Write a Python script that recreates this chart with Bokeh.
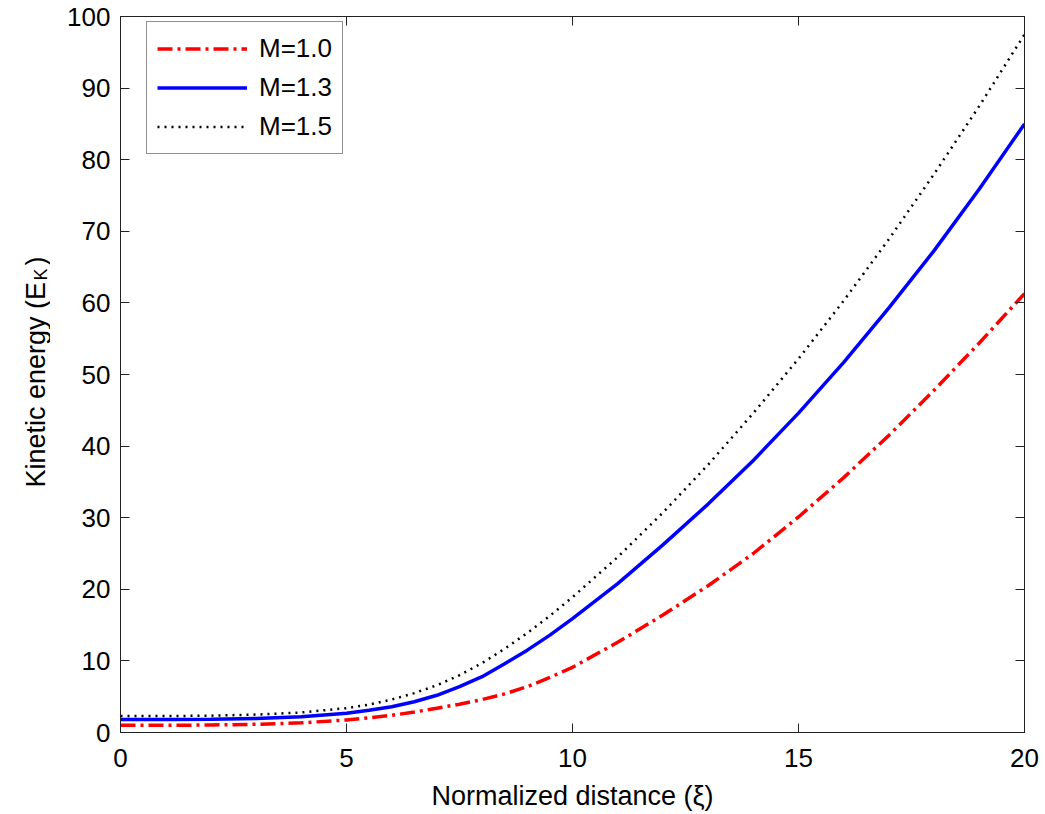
from bokeh.plotting import figure
from bokeh.layouts import row
from bokeh.models import Range1d, LinearAxis, Legend, LegendItem
from bokeh.core.properties import value
from bokeh.embed import file_html
from bokeh.resources import INLINE
import math

# Normalized distance (xi)
xi = [0, 1, 2, 3, 4, 5, 5.5, 6, 6.5, 7, 7.5, 8, 8.5, 9, 9.5, 10,
      11, 12, 13, 14, 15, 16, 17, 18, 19, 20]

# Kinetic energy
ek_m10 = [1.0, 1.0, 1.05, 1.15, 1.35, 1.75, 2.05, 2.4, 2.85, 3.4, 3.95, 4.6, 5.4, 6.4, 7.7, 9.1,
          12.6, 16.4, 20.5, 25.0, 30.1, 35.6, 41.5, 47.8, 54.4, 61.3]
ek_m13 = [1.8, 1.8, 1.85, 1.95, 2.2, 2.7, 3.1, 3.6, 4.3, 5.2, 6.4, 7.8, 9.6, 11.5, 13.6, 15.9,
          20.8, 26.2, 31.9, 38.0, 44.6, 51.7, 59.3, 67.3, 75.9, 85.0]
ek_m15 = [2.3, 2.3, 2.35, 2.5, 2.8, 3.4, 3.9, 4.6, 5.5, 6.6, 8.0, 9.7, 11.7, 13.9, 16.3, 18.9,
          24.5, 30.7, 37.4, 44.6, 52.2, 60.3, 68.9, 78.0, 87.5, 97.5]

series_labels = ["M=1.0", "M=1.3", "M=1.5"]
x_ticks = [0, 5, 10, 15, 20]
y_ticks = [0, 10, 20, 30, 40, 50, 60, 70, 80, 90, 100]
y_label_parts = ["Kinetic energy (E", "K", ")"]

FONT = "Liberation Sans"
W, H = 1045, 814
LW = 50                      # width of the strip that holds the y-axis label
FRAME_TOP, FRAME_BOTTOM = 16, 732   # frame edges (page px); the strip's frame is aligned to them

# ---- strip with the rotated y-axis label (with subscript) ----
# its y range runs in page pixels (top-down), so text is placed by page position
lab = figure(width=LW, height=H, output_backend="svg", toolbar_location=None,
             x_range=Range1d(0, LW), y_range=Range1d(FRAME_BOTTOM, FRAME_TOP),
             x_axis_type=None, y_axis_type=None)
lab.min_border_left = lab.min_border_right = 0
lab.min_border_top = FRAME_TOP
lab.min_border_bottom = H - FRAME_BOTTOM
lab.outline_line_color = None
lab.xgrid.visible = False
lab.ygrid.visible = False
lab.text(x=[35], y=[487], text=[y_label_parts[0]], angle=math.pi / 2,
         text_font=value(FONT), text_font_size="27px", text_color="black",
         text_align="left", text_baseline="alphabetic")
lab.text(x=[40], y=[280], text=[y_label_parts[1]], angle=math.pi / 2,
         text_font=value(FONT), text_font_size="18px", text_color="black",
         text_align="left", text_baseline="alphabetic")
lab.text(x=[35], y=[265], text=[y_label_parts[2]], angle=math.pi / 2,
         text_font=value(FONT), text_font_size="27px", text_color="black",
         text_align="left", text_baseline="alphabetic")

# ---- main plot ----
p = figure(width=W - LW, height=H, output_backend="svg", toolbar_location=None,
           x_range=Range1d(0, 20), y_range=Range1d(0, 100))
p.min_border_left = 120 - LW
p.min_border_right = 21
p.min_border_top = 14
p.min_border_bottom = 82
p.background_fill_color = "white"
p.border_fill_color = "white"
p.outline_line_color = "#222222"
p.outline_line_width = 1
p.xgrid.visible = False
p.ygrid.visible = False

r1 = p.line(xi, ek_m10, line_color="#ff0000", line_width=3.5, line_dash="15 5 3 5")
r2 = p.line(xi, ek_m13, line_color="#0000ff", line_width=3.5)
r3 = p.line(xi, ek_m15, line_color="black", line_width=2.5, line_dash="2 5")

for ax in (p.xaxis[0], p.yaxis[0]):
    ax.major_tick_in = 9
    ax.major_tick_out = 0
    ax.minor_tick_in = 0
    ax.minor_tick_out = 0
    ax.axis_line_color = "#222222"
    ax.major_tick_line_color = "#222222"
    ax.major_label_text_font = FONT
    ax.major_label_text_font_size = "26px"
    ax.major_label_text_color = "black"
    ax.axis_label_text_font = FONT
    ax.axis_label_text_font_style = "normal"
    ax.axis_label_text_color = "black"

p.xaxis[0].ticker = x_ticks
p.yaxis[0].ticker = y_ticks
p.xaxis[0].major_label_standoff = 16
p.yaxis[0].major_label_standoff = 10
p.xaxis[0].axis_label = "Normalized distance (\u03be)"
p.xaxis[0].axis_label_text_font_size = "27px"
p.xaxis[0].axis_label_standoff = 11

# mirrored ticks (box on)
top_ax = LinearAxis(ticker=x_ticks, major_tick_in=9, major_tick_out=0,
                    minor_tick_in=0, minor_tick_out=0,
                    major_label_overrides={t: "" for t in x_ticks}, major_label_standoff=0,
                    axis_line_color="#222222", major_tick_line_color="#222222")
right_ax = LinearAxis(ticker=y_ticks, major_tick_in=9, major_tick_out=0,
                      minor_tick_in=0, minor_tick_out=0,
                      major_label_overrides={t: "" for t in y_ticks}, major_label_standoff=0,
                      axis_line_color="#222222", major_tick_line_color="#222222")
p.add_layout(top_ax, "above")
p.add_layout(right_ax, "right")

legend = Legend(items=[LegendItem(label=series_labels[0], renderers=[r1]),
                       LegendItem(label=series_labels[1], renderers=[r2]),
                       LegendItem(label=series_labels[2], renderers=[r3])],
                location=(26, 578))
legend.margin = 0
legend.padding = 10
legend.spacing = 6
legend.glyph_width = 90
legend.glyph_height = 33
legend.label_standoff = 12
legend.label_text_font = FONT
legend.label_text_font_size = "26px"
legend.label_text_color = "black"
legend.border_line_color = "#222222"
legend.border_line_width = 1
legend.background_fill_color = "white"
legend.background_fill_alpha = 1
p.add_layout(legend, "center")

layout = row(lab, p)
open("out.html", "w").write(file_html(layout, INLINE))
